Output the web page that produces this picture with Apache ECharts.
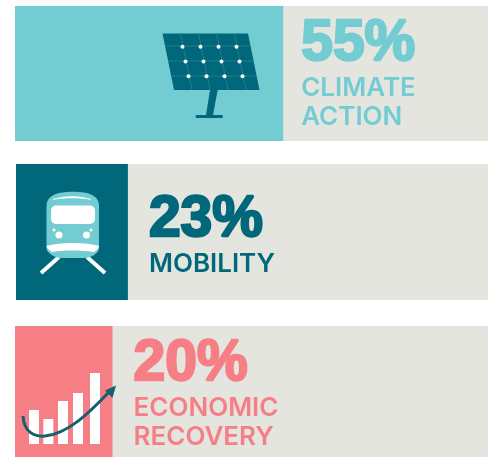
<!DOCTYPE html>
<html>
<head>
<meta charset="utf-8">
<title>Spending shares</title>
<style>
html,body{margin:0;padding:0;background:#fff;overflow:hidden}
#chart{width:488px;height:457px}
</style>
<script src="https://cdn.jsdelivr.net/npm/echarts@6/dist/echarts.min.js"></script>
</head>
<body>
<div id="chart"></div>
<script>
// values
var categories = ['CLIMATE\nACTION', 'MOBILITY', 'ECONOMIC\nRECOVERY'];
var shares = [55, 23, 20];

var TEAL = '#74ccd3', DARK = '#00687a', CORAL = '#f67f85', GREY = '#e5e5e0';
var barColors = [TEAL, DARK, CORAL];

// one grid per row, the rows are not quite the same height
var rows = [
    {left: 15, top: 6, height: 135, dist: 18, dy: 0},
    {left: 16, top: 164, height: 136, dist: 21, dy: 3},
    {left: 15, top: 326, height: 131, dist: 21, dy: 2}
];

var grids = [], xAxes = [], yAxes = [], series = [];
rows.forEach(function (row, i) {
    grids.push({left: row.left, top: row.top, right: 0, height: row.height});
    // the grey band runs off the right edge of the picture
    xAxes.push({type: 'value', gridIndex: i, min: 0, max: 97, show: false});
    yAxes.push({type: 'category', gridIndex: i, data: [categories[i]], show: false});
    var c = barColors[i];
    series.push({
        type: 'bar',
        xAxisIndex: i,
        yAxisIndex: i,
        barWidth: '100%',
        data: [shares[i]],
        silent: true,
        animation: false,
        itemStyle: {color: c},
        showBackground: true,
        backgroundStyle: {color: GREY},
        label: {
            show: true,
            position: 'right',
            distance: row.dist,
            offset: [0, row.dy],
            align: 'left',
            formatter: function () {
                var lines = categories[i].split('\n').map(function (s) {
                    return '{n|' + s + '}';
                });
                return '{v|' + shares[i] + '%}\n' + lines.join('\n');
            },
            rich: {
                v: {
                    fontFamily: '"Liberation Sans"', fontSize: 57, fontWeight: 'bold',
                    color: c, lineHeight: 58, textBorderColor: c, textBorderWidth: 2.4
                },
                n: {
                    fontFamily: 'Inter', fontSize: 26, fontWeight: 600,
                    color: c, lineHeight: 29
                }
            }
        }
    });
});

// solar panel icon
var panel = [
    {type: 'polygon', shape: {points: [[210, 90], [217.7, 90], [213, 115], [206, 115]]}, style: {fill: DARK}},
    {type: 'rect', shape: {x: 195.5, y: 115, width: 27.5, height: 3, r: 1.5}, style: {fill: DARK}},
    {type: 'polygon', shape: {points: [[162.5, 33.5], [248, 33.5], [259.5, 90], [174, 90]]}, style: {fill: DARK}}
];
[[165, 46, 251, 46], [168, 61, 254, 61], [171, 76, 257, 76],
 [180.5, 33.5, 192, 90], [198.5, 33.5, 210, 90], [216.5, 33.5, 228, 90], [234.5, 33.5, 246, 90]].forEach(function (l) {
    panel.push({type: 'line', shape: {x1: l[0], y1: l[1], x2: l[2], y2: l[3]}, style: {stroke: '#2f8797', lineWidth: 0.7}});
});
[[182.5, 46.7], [185.5, 61.5], [188.5, 76.3]].forEach(function (p) {
    for (var k = 0; k < 4; k++) {
        panel.push({type: 'circle', shape: {cx: p[0] + k * 18, cy: p[1], r: 2}, style: {fill: '#fff'}});
    }
});

// train icon
var train = [
    {type: 'line', shape: {x1: 59, y1: 257, x2: 41, y2: 273}, style: {stroke: '#fff', lineWidth: 4}},
    {type: 'line', shape: {x1: 87, y1: 257, x2: 105, y2: 273}, style: {stroke: '#fff', lineWidth: 4}},
    {type: 'path', shape: {pathData: 'M46.5 206 C46.5 195 58 191.7 73 191.7 C88 191.7 99 195 99 206 L99 248 C99 253 91 258 84 258 L62 258 C55 258 46.5 253 46.5 248 Z'}, style: {fill: TEAL}},
    {type: 'path', shape: {pathData: 'M46.5 246 C60 242 86 242 99 246 C99 248 97 250 94 252 C80 250 64 250 52 252 C49 250 46.5 248 46.5 246 Z'}, style: {fill: '#fff'}},
    {type: 'path', shape: {pathData: 'M53 199.5 C65 195.5 80 195.5 91 199.5 C80 197.5 65 197.5 53 199.5 Z'}, style: {fill: '#fff', stroke: '#fff', lineWidth: 0.5}},
    {type: 'rect', shape: {x: 51, y: 205.5, width: 44, height: 18.5, r: 5}, style: {fill: '#fff'}},
    {type: 'circle', shape: {cx: 59, cy: 235, r: 3.5}, style: {fill: '#fff'}},
    {type: 'circle', shape: {cx: 86.5, cy: 235, r: 3.5}, style: {fill: '#fff'}},
    {type: 'circle', shape: {cx: 54, cy: 230, r: 1.5}, style: {fill: '#fff'}},
    {type: 'circle', shape: {cx: 91, cy: 230, r: 1.5}, style: {fill: '#fff'}}
];

// growth icon
var growth = [];
[[29, 410], [43.3, 419], [58, 401], [73, 393], [90, 373]].forEach(function (b) {
    growth.push({type: 'rect', shape: {x: b[0], y: b[1], width: 10, height: 444 - b[1]}, style: {fill: '#fff'}});
});
growth.push({
    type: 'path',
    shape: {pathData: 'M23 416 C24 432 34 437 45 436 C68 434 90 412 108 393'},
    style: {fill: 'none', stroke: '#14606f', lineWidth: 3}
});
growth.push({type: 'polygon', shape: {points: [[116, 385.5], [105, 390.5], [112.5, 398]]}, style: {fill: '#14606f'}});

// the icons sit on top of the bars
series.push({
    type: 'custom',
    coordinateSystem: 'none',
    data: [0],
    silent: true,
    animation: false,
    z: 10,
    renderItem: function () {
        return {type: 'group', children: panel.concat(train, growth)};
    }
});

var myChart = echarts.init(document.getElementById('chart'), null, {renderer: 'canvas'});
myChart.setOption({
    animation: false,
    backgroundColor: '#fff',
    grid: grids,
    xAxis: xAxes,
    yAxis: yAxes,
    series: series
});
</script>
</body>
</html>
